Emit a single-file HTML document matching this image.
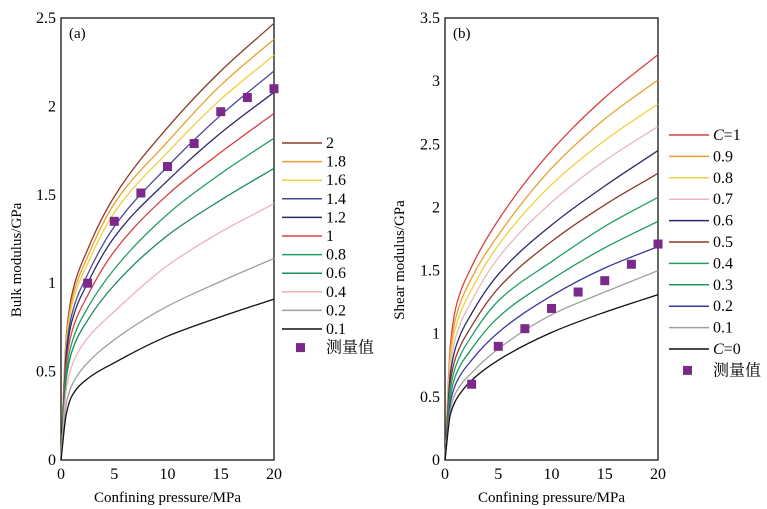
<!DOCTYPE html>
<html><head><meta charset="utf-8"><style>
html,body{margin:0;padding:0;background:#fff;}
svg{display:block;font-family:"Liberation Serif","Noto Serif CJK SC",serif;}
</style></head><body>
<svg id="c" width="767" height="509" viewBox="0 0 767 509"></svg>
<script>
const pressures=[0,0.5,1,2.5,5,10,15,20];
const leftLabels=["2","1.8","1.6","1.4","1.2","1","0.8","0.6","0.4","0.2","0.1"];
const leftColors=["#8b3a2a","#e8a030","#f0d040","#4a4a9a","#2a2a6a","#d84040","#20a060","#1a8a5a","#f0b0b8","#a0a0a0","#111111"];
const leftSeries=[
[0,0.7,0.93,1.19,1.49,1.88,2.2,2.47],
[0,0.68,0.9,1.15,1.45,1.8,2.12,2.38],
[0,0.66,0.87,1.11,1.40,1.74,2.04,2.29],
[0,0.62,0.82,1.05,1.32,1.66,1.95,2.2],
[0,0.59,0.78,1.0,1.26,1.58,1.85,2.08],
[0,0.55,0.72,0.93,1.18,1.50,1.74,1.96],
[0,0.5,0.66,0.86,1.08,1.39,1.62,1.82],
[0,0.46,0.61,0.79,0.99,1.27,1.47,1.65],
[0,0.4,0.53,0.69,0.84,1.10,1.29,1.45],
[0,0.32,0.42,0.55,0.68,0.87,1.01,1.14],
[0,0.26,0.36,0.46,0.55,0.70,0.81,0.91]];
const measX=[2.5,5,7.5,10,12.5,15,17.5,20];
const leftMeas=[1.0,1.35,1.51,1.66,1.79,1.97,2.05,2.1];
const leftYTicks=[0,0.5,1,1.5,2,2.5];
const rightLabels=["C=1","0.9","0.8","0.7","0.6","0.5","0.4","0.3","0.2","0.1","C=0"];
const rightColors=["#d84040","#e8a030","#f0d040","#e8b8c0","#2a2a6a","#8b3a2a","#20a060","#1a9a5a","#3a3a9a","#a0a0a0","#111111"];
const rightSeries=[
[0,0.9,1.2,1.53,1.9,2.45,2.87,3.21],
[0,0.85,1.12,1.44,1.78,2.31,2.70,3.01],
[0,0.8,1.05,1.35,1.70,2.18,2.53,2.82],
[0,0.74,0.97,1.26,1.60,2.04,2.37,2.64],
[0,0.68,0.89,1.16,1.47,1.86,2.17,2.45],
[0,0.62,0.81,1.06,1.36,1.73,2.02,2.27],
[0,0.56,0.74,0.98,1.26,1.57,1.85,2.08],
[0,0.5,0.67,0.88,1.13,1.43,1.68,1.89],
[0,0.45,0.6,0.79,1.01,1.30,1.52,1.69],
[0,0.4,0.53,0.69,0.88,1.15,1.33,1.50],
[0,0.36,0.47,0.63,0.79,1.01,1.17,1.31]];
const rightMeas=[0.6,0.9,1.04,1.2,1.33,1.42,1.55,1.71];
const rightYTicks=[0,0.5,1,1.5,2,2.5,3,3.5];
const xTicks=[0,5,10,15,20];

const NS="http://www.w3.org/2000/svg";
const svg=document.getElementById('c');
function mk(tag,attrs,parent){const e=document.createElementNS(NS,tag);for(const k in attrs)e.setAttribute(k,attrs[k]);(parent||svg).appendChild(e);return e;}
function smooth(pts){
  const n=pts.length,dx=[],dy=[],m=[],t=[];
  for(let i=0;i<n-1;i++){dx[i]=pts[i+1][0]-pts[i][0];dy[i]=pts[i+1][1]-pts[i][1];m[i]=dy[i]/dx[i];}
  t[0]=m[0];t[n-1]=m[n-2];
  for(let i=1;i<n-1;i++){ if(m[i-1]*m[i]<=0)t[i]=0; else {const w1=2*dx[i]+dx[i-1],w2=dx[i]+2*dx[i-1];t[i]=(w1+w2)/(w1/m[i-1]+w2/m[i]);} }
  let d="M"+pts[0][0].toFixed(1)+","+pts[0][1].toFixed(1);
  for(let i=0;i<n-1;i++){const h=dx[i]/3;
    d+=" C"+(pts[i][0]+h).toFixed(1)+","+(pts[i][1]+t[i]*h).toFixed(1)+" "+(pts[i+1][0]-h).toFixed(1)+","+(pts[i+1][1]-t[i+1]*h).toFixed(1)+" "+pts[i+1][0].toFixed(1)+","+pts[i+1][1].toFixed(1);}
  return d;}

function panel(o){
  const g=mk('g',{});
  
  
  const xs=v=>o.x0+(o.x1-o.x0)*v/20;
  const ys=v=>o.y0-(o.y0-o.y1)*v/o.ymax;
  const frame=mk('rect',{x:o.x0,y:o.y1,width:o.x1-o.x0,height:o.y0-o.y1,fill:'none',stroke:'#000','stroke-width':1.2},g);
  
  
  o.yt.forEach(t=>{
    const tx=mk('text',{x:o.x0-5,y:ys(t)+5,'text-anchor':'end','font-size':16},g);tx.textContent=t;
    
    
  });
  xTicks.forEach(t=>{
    const tx=mk('text',{x:xs(t),y:o.y0+19,'text-anchor':'middle','font-size':16},g);tx.textContent=t;
    
    
  });
  const xt=mk('text',{x:(o.x0+o.x1)/2,y:502,'text-anchor':'middle','font-size':15},g);xt.textContent='Confining pressure/MPa';
  
  
  const yt=mk('text',{x:0,y:0,'text-anchor':'middle','font-size':15,transform:`translate(${o.ytx},260) rotate(-90)`},g);yt.textContent=o.ytitle;
  
  
  const pl=mk('text',{x:o.x0+8,y:38,'font-size':15},g);pl.textContent=o.plabel;
  
  
  o.series.forEach((s,i)=>{
    const pts=pressures.map((p,j)=>[xs(p),ys(s[j])]);
    const path=mk('path',{d:smooth(pts),fill:'none',stroke:o.colors[i],'stroke-width':1.3},g);
    
    
    const ly=o.ly0+i*o.ldy;
    const ll=mk('line',{x1:o.lx,x2:o.lx+40,y1:ly,y2:ly,stroke:o.colors[i],'stroke-width':1.5},g);
    
    
    const lt=mk('text',{x:o.lx+44,y:ly+5,'font-size':16},g);
    if(o.labels[i].startsWith('C=')){const ts=mk('tspan',{'font-style':'italic'},lt);ts.textContent='C';lt.appendChild(document.createTextNode(o.labels[i].slice(1)));}
    else lt.textContent=o.labels[i];
    
    
  });
  o.meas.forEach((m,i)=>{
    const r=mk('rect',{x:xs(measX[i])-4.5,y:ys(m)-4.5,width:9,height:9,fill:'#7b2a8a'},g);
    
    
  });
  const my=o.ly0+11*o.ldy;
  const mr=mk('rect',{x:o.lx+14,y:my-4.5,width:9,height:9,fill:'#7b2a8a'},g);
  
  
  const mt=mk('text',{x:o.lx+44,y:my+5,'font-size':16,'font-family':'"Noto Serif CJK SC","Noto Sans CJK SC",serif'},g);mt.textContent='测量值';
  
  
}
panel({name:'bulk-panel',x0:61,x1:274,y0:460,y1:18,ymax:2.5,yt:leftYTicks,series:leftSeries,colors:leftColors,labels:leftLabels,meas:leftMeas,lx:282,ly0:143,ldy:18.6,ytx:21,ytitle:'Bulk modulus/GPa',plabel:'(a)'});
panel({name:'shear-panel',x0:445,x1:658,y0:460,y1:18,ymax:3.5,yt:rightYTicks,series:rightSeries,colors:rightColors,labels:rightLabels,meas:rightMeas,lx:669,ly0:135,ldy:21.4,ytx:404,ytitle:'Shear modulus/GPa',plabel:'(b)'});
</script>
</body></html>
